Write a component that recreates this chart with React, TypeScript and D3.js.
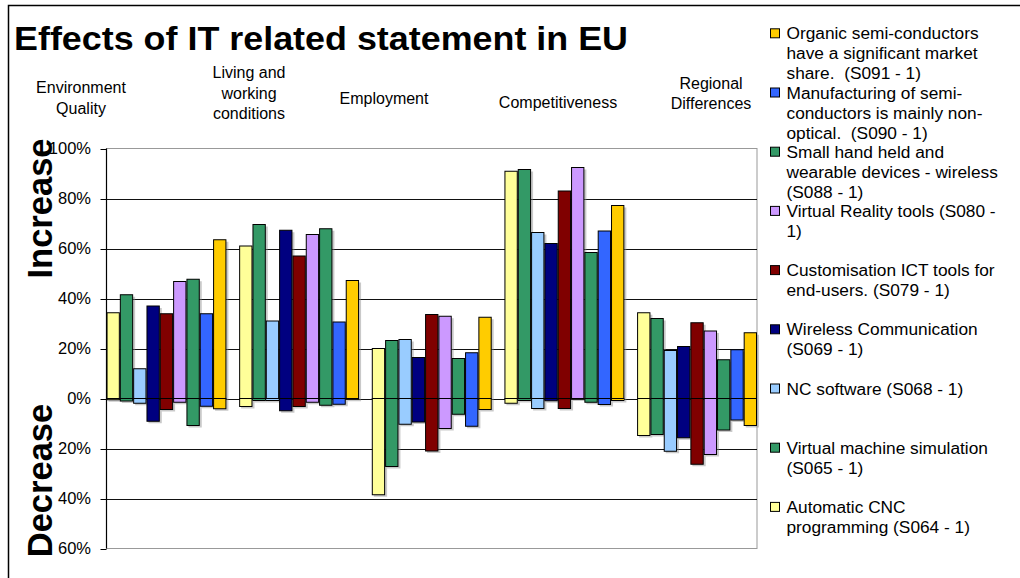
import React from "react";
import * as d3 from "d3";

const categories = ["Environment Quality", "Living and working conditions", "Employment", "Competitiveness", "Regional Differences"];
const categoryLines = [["Environment", "Quality"], ["Living and", "working", "conditions"], ["Employment"], ["Competitiveness"], ["Regional", "Differences"]];

const seriesNames = [
  "Automatic CNC programming (S064 - 1)",
  "Virtual machine simulation (S065 - 1)",
  "NC software (S068 - 1)",
  "Wireless Communication (S069 - 1)",
  "Customisation ICT tools for end-users. (S079 - 1)",
  "Virtual Reality tools (S080 - 1)",
  "Small hand held and wearable devices - wireless (S088 - 1)",
  "Manufacturing of semi-conductors is mainly non-optical. (S090 - 1)",
  "Organic semi-conductors have a significant market share. (S091 - 1)",
];
const seriesColors = ["#FFFF99", "#339966", "#99CCFF", "#000080", "#800000", "#CC99FF", "#339966", "#3366FF", "#FFCC00"];

// percentage answering "increase" per category
const increaseCNC = [34.3, 61, 20, 90.9, 34.3];
const increaseVM = [41.5, 69.6, 23.2, 91.6, 32];
const increaseNC = [11.9, 31, 23.6, 66.4, 19.2];
const increaseWireless = [37, 67.3, 16.4, 62, 20.8];
const increaseCustom = [33.9, 57, 33.6, 83, 30.3];
const increaseVR = [46.8, 65.6, 32.9, 92.4, 27];
const increaseHandheld = [47.7, 67.9, 16, 58.4, 15.5];
const increaseManuf = [33.9, 30.6, 18.3, 67, 19.5];
const increaseOrganic = [63.5, 47.2, 32.5, 77.2, 26.3];

// percentage answering "decrease" per category
const decreaseCNC = [0.5, 3.2, 38.5, 1.9, 14.8];
const decreaseVM = [1, 0.8, 27.2, 0.8, 14.4];
const decreaseNC = [1.9, 0.8, 10.3, 4, 21.1];
const decreaseWireless = [9.1, 4.9, 9.4, 0.9, 15.7];
const decreaseCustom = [4.4, 3.2, 21, 4, 26.3];
const decreaseVR = [1.5, 1.5, 12, 0.2, 22.4];
const decreaseHandheld = [10.8, 2.7, 6.3, 1.5, 12.6];
const decreaseManuf = [3.1, 2.3, 11.1, 2.4, 8.6];
const decreaseOrganic = [4.1, 0.3, 4.4, 0.8, 10.8];

const increases = [increaseCNC, increaseVM, increaseNC, increaseWireless, increaseCustom, increaseVR, increaseHandheld, increaseManuf, increaseOrganic];
const decreases = [decreaseCNC, decreaseVM, decreaseNC, decreaseWireless, decreaseCustom, decreaseVR, decreaseHandheld, decreaseManuf, decreaseOrganic];

const yTicks = [100, 80, 60, 40, 20, 0, -20, -40, -60];

const legendLines = [
  ["Organic semi-conductors", "have a significant market", "share.  (S091 - 1)"],
  ["Manufacturing of semi-", "conductors is mainly non-", "optical.  (S090 - 1)"],
  ["Small hand held and", "wearable devices - wireless", "(S088 - 1)"],
  ["Virtual Reality tools (S080 -", "1)"],
  ["Customisation ICT tools for", "end-users. (S079 - 1)"],
  ["Wireless Communication", "(S069 - 1)"],
  ["NC software (S068 - 1)"],
  ["Virtual machine simulation", "(S065 - 1)"],
  ["Automatic CNC", "programming (S064 - 1)"],
];
const legendSeriesIndex = [8, 7, 6, 5, 4, 3, 2, 1, 0];

const FONT = "'Liberation Sans', Arial, Helvetica, sans-serif";

export default function App() {
  const W = 1020, H = 578;
  const left = 106.5, right = 757, top = 148.5, bottom = 548.5;
  const y = d3.scaleLinear().domain([-60, 100]).range([bottom, top]);
  const x0 = d3.scaleBand<string>().domain(categories).range([left, right]).paddingInner(0.096).paddingOuter(0);
  const x1 = d3.scaleBand<number>().domain(d3.range(seriesNames.length)).range([0, x0.bandwidth()]).padding(0);
  const catX = [81, 249, 384, 558, 711];
  const catFirstBaseline = [93, 78, 104, 108, 88.5];

  return (
    <svg width={W} height={H} style={{ position: "absolute", left: 0, top: 0, background: "#fff" }} fontFamily={FONT}>
      <rect x={8.5} y={5.5} width={1030} height={600} fill="#fff" stroke="#000" strokeWidth={1.5} />
      <text x={14} y={49.5} fontSize={34} fontWeight="bold" textLength={614} lengthAdjust="spacingAndGlyphs">Effects of IT related statement in EU</text>

      {categoryLines.map((lines, i) => (
        <text key={i} x={catX[i]} y={catFirstBaseline[i]} fontSize={16} textAnchor="middle">
          {lines.map((l, j) => (
            <tspan key={j} x={catX[i]} dy={j === 0 ? 0 : 20.7}>{l}</tspan>
          ))}
        </text>
      ))}

      {/* plot area */}
      <rect x={left} y={top} width={right - left} height={bottom - top} fill="#fff" stroke="#999" strokeWidth={1} />
      {yTicks.filter(t => t !== 100 && t !== -60).map(t => (
        <line key={t} x1={left} x2={right} y1={Math.round(y(t)) + 0.5} y2={Math.round(y(t)) + 0.5} stroke="#111" strokeWidth={1} />
      ))}

      {/* bars */}
      {categories.map((c, ci) => (
        <g key={c}>
          {seriesNames.map((s, si) => {
            const bx = (x0(c) as number) + (x1(si) as number);
            const bw = x1.bandwidth();
            const yp = y(increases[si][ci]);
            const y0 = y(0);
            const yn = y(-decreases[si][ci]);
            return (
              <g key={s}>
                <rect x={bx + 2} y={yp + 2} width={bw} height={yn - yp} fill="#888" opacity={0.45} />
                <rect x={bx + 0.5} y={yp} width={bw - 1} height={y0 - yp} fill={seriesColors[si]} stroke="#000" strokeWidth={1} />
                <rect x={bx + 0.5} y={y0} width={bw - 1} height={yn - y0} fill={seriesColors[si]} stroke="#000" strokeWidth={1} />
              </g>
            );
          })}
        </g>
      ))}

      {/* axis */}
      <line x1={left} x2={left} y1={top} y2={bottom} stroke="#000" strokeWidth={1.2} />
      {yTicks.map(t => (
        <g key={t}>
          <line x1={left - 6} x2={left} y1={Math.round(y(t)) + 0.5} y2={Math.round(y(t)) + 0.5} stroke="#000" />
          <text x={91} y={y(t)} dy="0.35em" fontSize={16.5} textAnchor="end">{Math.abs(t)}%</text>
        </g>
      ))}

      <text transform={`translate(52,208.5) rotate(-90)`} fontSize={34.5} fontWeight="bold" textAnchor="middle">Increase</text>
      <text transform={`translate(52,480.5) rotate(-90)`} fontSize={34.5} fontWeight="bold" textAnchor="middle">Decrease</text>

      {/* legend */}
      {legendLines.map((lines, i) => {
        const base = 39.3 + i * 59.2;
        const si = legendSeriesIndex[i];
        return (
          <g key={i}>
            <rect x={770.5} y={base - 10.5} width={9} height={9} fill={seriesColors[si]} stroke="#000" strokeWidth={1} />
            <text x={786.5} y={base} fontSize={17.3} style={{ whiteSpace: "pre" }}>
              {lines.map((l, j) => (
                <tspan key={j} x={786.5} dy={j === 0 ? 0 : 20}>{l}</tspan>
              ))}
            </text>
          </g>
        );
      })}
    </svg>
  );
}
